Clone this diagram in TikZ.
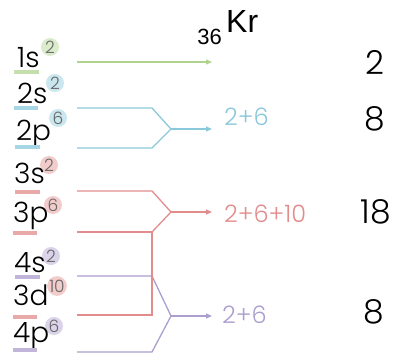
\documentclass[tikz,border=0pt]{standalone}
\usepackage{fontspec}
\setmainfont{Poppins}[UprightFont=* Light]
\newfontfamily\krfont{Liberation Sans}
\usetikzlibrary{arrows.meta,positioning}
\definecolor{shellK}{RGB}{176,212,144}
\definecolor{shellL}{RGB}{138,200,220}
\definecolor{shellM}{RGB}{226,140,140}
\definecolor{shellN}{RGB}{172,158,206}
\tikzset{
  orb/.style={anchor=base west, inner sep=0pt, font=\fontsize{28}{28}\selectfont},
  occ/.style={circle, fill=#1!45, minimum size=18pt, inner sep=0pt, text=black!60, font=\fontsize{17}{17}\selectfont},
  ul/.style={line width=4pt, draw=#1!75},
  wire/.style={line width=1.3pt, draw=#1, line join=miter},
  feed/.style={wire=#1, -{Triangle[length=6pt,width=5pt]}},
  sum/.style={anchor=base west, inner sep=0pt, text=#1, font=\fontsize{24}{24}\selectfont},
  total/.style={anchor=base, inner sep=0pt, font=\fontsize{33}{33}\selectfont}
}

\begin{document}
\begin{tikzpicture}[x=1pt, y=-1pt]
  \useasboundingbox (0,0) rectangle (395,353);

  % Element symbol
  \node[anchor=base west, inner sep=0pt, font=\krfont\fontsize{32}{32}\selectfont] (kr) at (226,33) {Kr};
  \node[anchor=base east, inner sep=0pt, font=\krfont\fontsize{22}{22}\selectfont] (z) at (222,45) {36};

  % Occupation circles (behind the orbital labels)
  \node[occ=shellK] (c1s) at (50,47)  {2};
  \node[occ=shellL] (c2s) at (55,83)  {2};
  \node[occ=shellL] (c2p) at (58,118) {6};
  \node[occ=shellM] (c3s) at (49,165) {2};
  \node[occ=shellM] (c3p) at (53,205) {6};
  \node[occ=shellN] (c4s) at (51,256) {2};
  \node[occ=shellM] (c3d) at (57,286) {10};
  \node[occ=shellN] (c4p) at (54,326) {6};

  % Orbitals in filling order
  \node[orb] (o1s) at (17,67)  {1s};
  \node[orb] (o2s) at (17,103) {2s};
  \node[orb] (o2p) at (16,140) {2p};
  \node[orb] (o3s) at (14,183) {3s};
  \node[orb] (o3p) at (13,222) {3p};
  \node[orb] (o4s) at (14,272) {4s};
  \node[orb] (o3d) at (13,305) {3d};
  \node[orb] (o4p) at (13,342) {4p};

  % Shell underlines
  \foreach \y/\xa/\xb/\col in {72/14/39/shellK, 108/14/38/shellL, 147/15/40/shellL,
                              192/15/40/shellM, 233/13/37/shellM, 277/15/40/shellN,
                              317/13/37/shellM, 350/13/37/shellN}{
    \draw[ul=\col] (\xa,\y) -- (\xb,\y);
  }

  % Wire ends, bends and joins
  \coordinate (w1s) at (77,62);
  \coordinate (w2s) at (77,108);
  \coordinate (w2p) at (77,148);
  \coordinate (w3s) at (77,191);
  \coordinate (w3p) at (77,232);
  \coordinate (w4s) at (77,276);
  \coordinate (w3d) at (77,315);
  \coordinate (w4p) at (77,352);
  \coordinate (jL) at (171,129);
  \coordinate (jM) at (171,212);
  \coordinate (jN) at (171,316);
  \coordinate (tK) at (212,62);
  \coordinate (tL) at (212,129);
  \coordinate (tM) at (212,212);
  \coordinate (tN) at (212,316);

  % N shell
  \draw[wire=shellN] (w4s) -- ++(75,0) -- (jN);
  \draw[wire=shellN] (w4p) -- ++(75,0) -- (jN);
  \draw[feed=shellN] (jN) -- (tN);

  % M shell
  \draw[wire=shellM] (w3s) -- ++(75,0) -- (jM);
  \draw[wire=shellM] (w3p) -- ++(75,0) -- (jM);
  \draw[wire=shellM] (w3d) -- ++(75,0) |- (w3p);
  \draw[feed=shellM] (jM) -- (tM);

  % L shell
  \draw[wire=shellL] (w2s) -- ++(75,0) -- (jL);
  \draw[wire=shellL] (w2p) -- ++(75,0) -- (jL);
  \draw[feed=shellL] (jL) -- (tL);

  % K shell
  \draw[feed=shellK] (w1s) -- (tK);

  % Electron counts per shell
  \node[sum=shellL] (sL) at (224,125) {2+6};
  \node[sum=shellM] (sM) at (224,222) {2+6+10};
  \node[sum=shellN] (sN) at (222,323) {2+6};

  \node[total] (nK) at (375,74)  {2};
  \node[total] (nL) at (375,130) {8};
  \node[total] (nM) at (376,223) {18};
  \node[total] (nN) at (374,323) {8};
\end{tikzpicture}
\end{document}
